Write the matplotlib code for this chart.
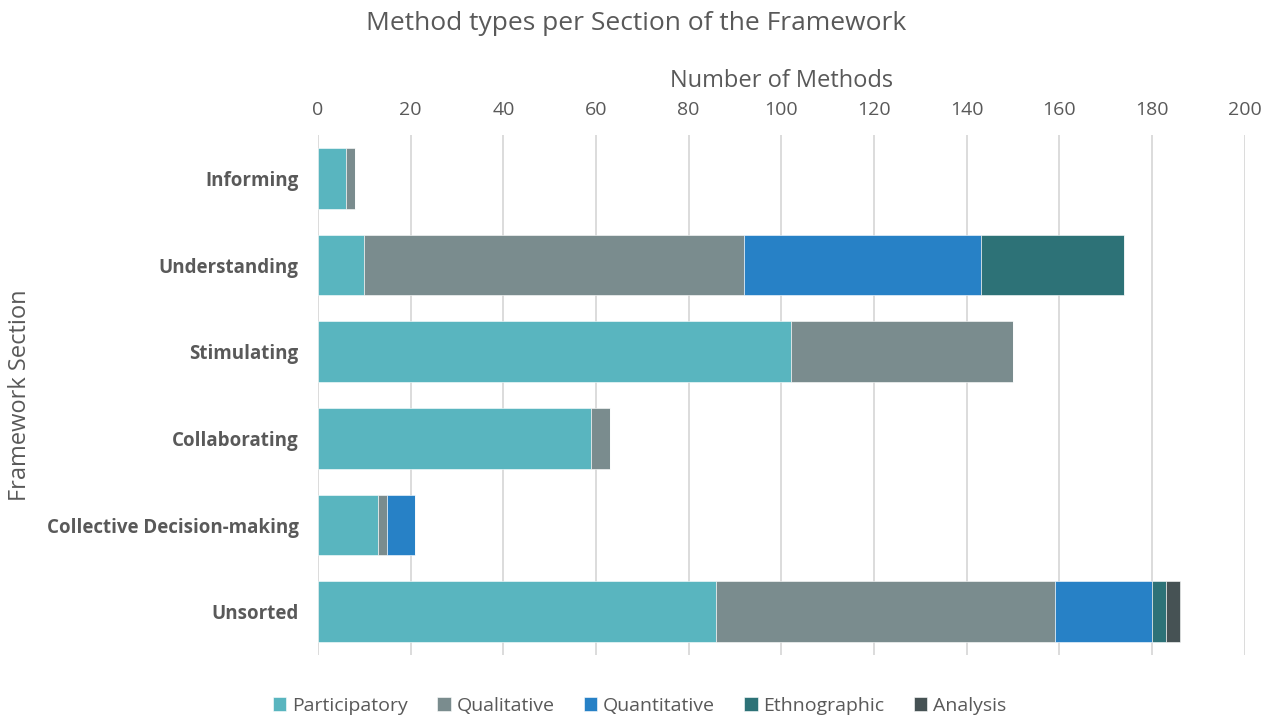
import matplotlib
matplotlib.use("Agg")
import matplotlib.pyplot as plt
import numpy as np

plt.rcParams['font.family'] = ['Open Sans', 'DejaVu Sans']

sections = ["Informing", "Understanding", "Stimulating", "Collaborating",
            "Collective Decision-making", "Unsorted"]
method_types = ["Participatory", "Qualitative", "Quantitative", "Ethnographic", "Analysis"]

participatory = [6, 10, 102, 59, 13, 86]
qualitative = [2, 82, 48, 4, 2, 73]
quantitative = [0, 51, 0, 0, 6, 21]
ethnographic = [0, 31, 0, 0, 0, 3]
analysis = [0, 0, 0, 0, 0, 3]

colors = ["#59B5BF", "#7A8C8E", "#2781C6", "#2D7277", "#465254"]
text_gray = "#595959"

series = [participatory, qualitative, quantitative, ethnographic, analysis]

fig = plt.figure(figsize=(12.74, 7.19), dpi=100)
ax = fig.add_axes([0.2496, 0.089, 0.7274, 0.723])

y = np.arange(len(sections))
left = np.zeros(len(sections))
for name, vals, col in zip(method_types, series, colors):
    vals = np.array(vals, dtype=float)
    ax.barh(y, vals, left=left, height=0.7, color=col, label=name,
            edgecolor="white", linewidth=0.4, zorder=3)
    left += vals

ax.set_ylim(len(sections) - 0.5, -0.5)
ax.set_xlim(0, 200)
ax.set_xticks(np.arange(0, 201, 20))
ax.xaxis.tick_top()
ax.xaxis.set_label_position("top")
ax.tick_params(axis="x", length=0, labelsize=14, colors=text_gray, pad=12)
ax.tick_params(axis="y", length=0, pad=14)
ax.set_yticks(y)
ax.set_yticklabels(sections, fontsize=13.5, fontweight="bold", color=text_gray)
ax.grid(axis="x", color="#D9D9D9", linewidth=1.3, zorder=0)
for s in ax.spines.values():
    s.set_visible(False)

ax.set_xlabel("Number of Methods", fontsize=17, color=text_gray, labelpad=10)
fig.text(0.016, 0.45, "Framework Section", rotation=90, fontsize=17,
         color=text_gray, ha="center", va="center")
fig.text(0.499, 0.968, "Method types per Section of the Framework", fontsize=19,
         color=text_gray, ha="center", va="center")

leg = fig.legend(loc="center", bbox_to_anchor=(0.502, 0.018), ncol=5, frameon=False,
                 fontsize=14, handlelength=0.7, handleheight=0.7,
                 handletextpad=0.3, columnspacing=1.5)
for t in leg.get_texts():
    t.set_color(text_gray)

fig.savefig("out.png", dpi=100)
